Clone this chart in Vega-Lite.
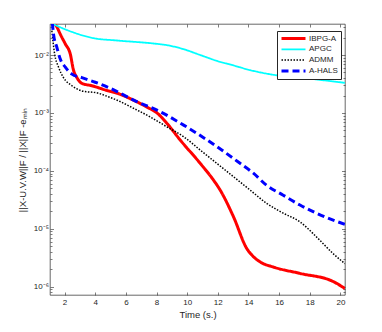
{
 "$schema": "https://vega.github.io/schema/vega-lite/v6.json",
 "width": 295, "height": 271,
 "autosize": "none",
 "padding": {"left": 50, "top": 24, "right": 37, "bottom": 37},
 "background": "white",
 "config": {
  "view": {"stroke": "#262626", "strokeWidth": 0.7},
  "font": "Liberation Sans",
  "axis": {"domain": false, "grid": false, "labelFontSize": 8, "labelColor": "#262626", "tickColor": "#262626", "tickWidth": 0.6, "titleFontSize": 9.5, "titleFontWeight": "normal", "titleColor": "#262626", "labelFont": "Liberation Sans", "titleFont": "Liberation Sans"}
 },
 "data": {"values": [
  {"m":"IBPG-A","t":1.3,"v":0.036},{"m":"IBPG-A","t":1.5,"v":0.0305},{"m":"IBPG-A","t":1.72,"v":0.0229},{"m":"IBPG-A","t":2.05,"v":0.0155},{"m":"IBPG-A","t":2.37,"v":0.0105},{"m":"IBPG-A","t":2.59,"v":0.0054},{"m":"IBPG-A","t":2.8,"v":0.0041},{"m":"IBPG-A","t":3.13,"v":0.00324},{"m":"IBPG-A","t":3.78,"v":0.00295},{"m":"IBPG-A","t":4.86,"v":0.0024},{"m":"IBPG-A","t":5.43,"v":0.00219},{"m":"IBPG-A","t":6.5,"v":0.00166},{"m":"IBPG-A","t":7.38,"v":0.00126},{"m":"IBPG-A","t":8.03,"v":0.001},{"m":"IBPG-A","t":8.68,"v":0.00066},{"m":"IBPG-A","t":9.55,"v":0.00034},{"m":"IBPG-A","t":10.85,"v":0.000135},{"m":"IBPG-A","t":11.72,"v":0.0000692},{"m":"IBPG-A","t":12.15,"v":0.0000468},{"m":"IBPG-A","t":13.02,"v":0.0000162},{"m":"IBPG-A","t":13.89,"v":0.00000457},{"m":"IBPG-A","t":14.32,"v":0.00000331},{"m":"IBPG-A","t":14.75,"v":0.00000269},{"m":"IBPG-A","t":15.62,"v":0.00000219},{"m":"IBPG-A","t":17.36,"v":0.0000017},{"m":"IBPG-A","t":19.53,"v":0.00000123},{"m":"IBPG-A","t":20.29,"v":0.000000933},
  {"m":"APGC","t":1.22,"v":0.0345},{"m":"APGC","t":2.17,"v":0.0269},{"m":"APGC","t":3.91,"v":0.0195},{"m":"APGC","t":5.43,"v":0.0178},{"m":"APGC","t":7.81,"v":0.0158},{"m":"APGC","t":8.68,"v":0.0148},{"m":"APGC","t":9.77,"v":0.0126},{"m":"APGC","t":10.85,"v":0.01},{"m":"APGC","t":11.93,"v":0.00794},{"m":"APGC","t":13.02,"v":0.00661},{"m":"APGC","t":14.1,"v":0.0055},{"m":"APGC","t":15.84,"v":0.00447},{"m":"APGC","t":17.36,"v":0.00407},{"m":"APGC","t":20.29,"v":0.00331},
  {"m":"ADMM","t":1.17,"v":0.0263},{"m":"ADMM","t":1.35,"v":0.0105},{"m":"ADMM","t":1.61,"v":0.00617},{"m":"ADMM","t":1.93,"v":0.00407},{"m":"ADMM","t":2.48,"v":0.00295},{"m":"ADMM","t":3.13,"v":0.0024},{"m":"ADMM","t":4.21,"v":0.00219},{"m":"ADMM","t":4.86,"v":0.0019},{"m":"ADMM","t":5.43,"v":0.00166},{"m":"ADMM","t":6.51,"v":0.0012},{"m":"ADMM","t":7.6,"v":0.000851},{"m":"ADMM","t":8.68,"v":0.000575},{"m":"ADMM","t":9.77,"v":0.000389},{"m":"ADMM","t":10.85,"v":0.000229},{"m":"ADMM","t":11.93,"v":0.000135},{"m":"ADMM","t":13.02,"v":0.0000794},{"m":"ADMM","t":14.1,"v":0.0000468},{"m":"ADMM","t":15.19,"v":0.0000275},{"m":"ADMM","t":16.27,"v":0.0000186},{"m":"ADMM","t":17.36,"v":0.0000132},{"m":"ADMM","t":18.44,"v":0.00000724},{"m":"ADMM","t":19.53,"v":0.00000372},{"m":"ADMM","t":20.29,"v":0.00000251},
  {"m":"A-HALS","t":1.2,"v":0.036},{"m":"A-HALS","t":1.28,"v":0.0229},{"m":"A-HALS","t":1.5,"v":0.0135},{"m":"A-HALS","t":1.72,"v":0.0085},{"m":"A-HALS","t":2.05,"v":0.00617},{"m":"A-HALS","t":2.48,"v":0.00468},{"m":"A-HALS","t":3.13,"v":0.00407},{"m":"A-HALS","t":4.0,"v":0.00339},{"m":"A-HALS","t":4.86,"v":0.00275},{"m":"A-HALS","t":5.43,"v":0.00234},{"m":"A-HALS","t":6.51,"v":0.00166},{"m":"A-HALS","t":8.03,"v":0.00112},{"m":"A-HALS","t":9.77,"v":0.000617},{"m":"A-HALS","t":11.93,"v":0.000263},{"m":"A-HALS","t":13.45,"v":0.000135},{"m":"A-HALS","t":14.32,"v":0.0000912},{"m":"A-HALS","t":15.19,"v":0.0000562},{"m":"A-HALS","t":16.27,"v":0.000038},{"m":"A-HALS","t":17.36,"v":0.0000257},{"m":"A-HALS","t":18.44,"v":0.0000186},{"m":"A-HALS","t":19.53,"v":0.0000141},{"m":"A-HALS","t":20.29,"v":0.000012}
 ]},
 "layer": [
  {
   "mark": {"type": "line", "clip": true, "interpolate": "monotone"},
   "encoding": {
    "x": {"field": "t", "type": "quantitative", "scale": {"domain": [1.05, 20.3], "nice": false, "zero": false},
          "axis": {"values": [2,4,6,8,10,12,14,16,18,20], "title": "Time (s.)", "tickSize": -3, "labelPadding": 6, "titlePadding": 3}},
    "y": {"field": "v", "type": "quantitative", "scale": {"type": "log", "domain": [0.00000072, 0.0343], "nice": false},
          "axis": {"values": [0.0000008,0.0000009,0.000001,0.000002,0.000003,0.000004,0.000005,0.000006,0.000007,0.000008,0.000009,0.00001,0.00002,0.00003,0.00004,0.00005,0.00006,0.00007,0.00008,0.00009,0.0001,0.0002,0.0003,0.0004,0.0005,0.0006,0.0007,0.0008,0.0009,0.001,0.002,0.003,0.004,0.005,0.006,0.007,0.008,0.009,0.01,0.02,0.03],
                   "labelExpr": "abs(log(datum.value)/LN10 - round(log(datum.value)/LN10)) < 0.001 ? '10' + ['⁰','⁻¹','⁻²','⁻³','⁻⁴','⁻⁵','⁻⁶'][-round(log(datum.value)/LN10)] : ''",
                   "tickSize": {"condition": {"test": "abs(log(datum.value)/LN10 - round(log(datum.value)/LN10)) < 0.001", "value": -3.5}, "value": -2},
                   "labelPadding": 5,
                   "title": "||X-U.V.W||F / ||X||F -eₘᵢₙ", "titlePadding": 6}},
    "color": {"field": "m", "type": "nominal", "scale": {"domain": ["IBPG-A","APGC","ADMM","A-HALS"], "range": ["#ff0000","#00ffff","#000000","#0000ff"]},
              "legend": {"orient": "none", "legendX": 227, "legendY": 7, "title": null, "symbolType": "stroke", "symbolSize": 576, "clipHeight": 9, "labelFontSize": 8, "labelColor": "#262626", "strokeColor": "#262626", "fillColor": "white", "padding": 3, "rowPadding": 1.8, "labelOffset": 2}},
    "strokeDash": {"field": "m", "type": "nominal", "scale": {"domain": ["IBPG-A","APGC","ADMM","A-HALS"], "range": [[1,0],[1,0],[1.5,1.5],[7,4]]}},
    "strokeWidth": {"field": "m", "type": "nominal", "scale": {"type": "ordinal", "domain": ["IBPG-A","APGC","ADMM","A-HALS"], "range": [3,1.8,1.5,3]}}
   }
  },
  {
   "mark": {"type": "line", "opacity": 0},
   "encoding": {
    "x": {"field": "t", "type": "quantitative", "axis": {"orient": "top", "values": [2,4,6,8,10,12,14,16,18,20], "labels": false, "title": null, "tickSize": -3}},
    "y": {"field": "v", "type": "quantitative", "axis": {"orient": "right", "values": [0.0000008,0.0000009,0.000001,0.000002,0.000003,0.000004,0.000005,0.000006,0.000007,0.000008,0.000009,0.00001,0.00002,0.00003,0.00004,0.00005,0.00006,0.00007,0.00008,0.00009,0.0001,0.0002,0.0003,0.0004,0.0005,0.0006,0.0007,0.0008,0.0009,0.001,0.002,0.003,0.004,0.005,0.006,0.007,0.008,0.009,0.01,0.02,0.03], "labels": false, "title": null,
          "tickSize": {"condition": {"test": "abs(log(datum.value)/LN10 - round(log(datum.value)/LN10)) < 0.001", "value": -3.5}, "value": -2}}},
    "detail": {"field": "m"}
   }
  }
 ],
 "resolve": {"axis": {"x": "independent", "y": "independent"}}
}
